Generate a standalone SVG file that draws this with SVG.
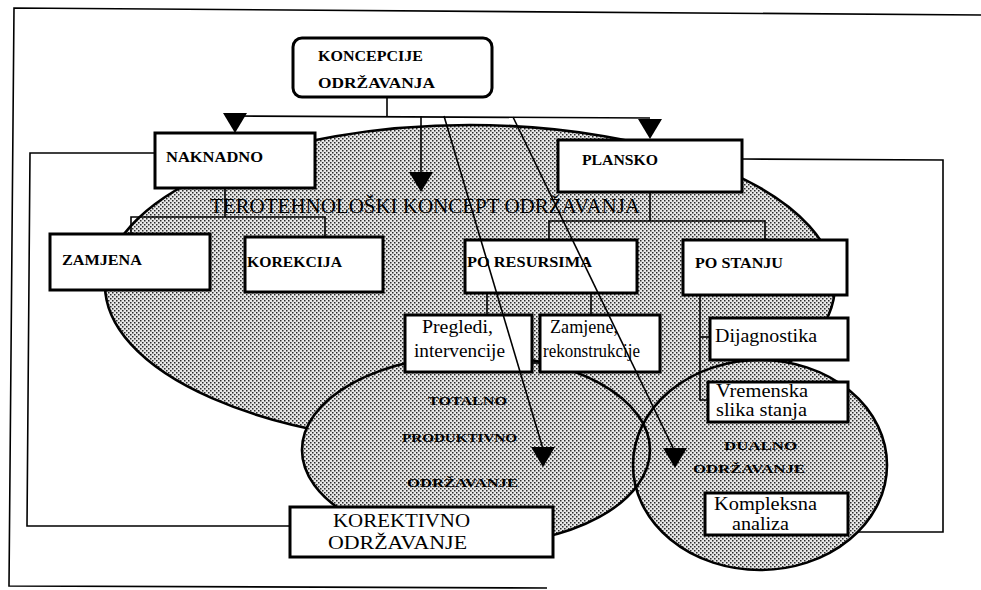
<svg xmlns="http://www.w3.org/2000/svg" xmlns:xlink="http://www.w3.org/1999/xlink" width="981" height="590" viewBox="0 0 981 590">
  <defs>
    <!-- halftone dot screen used for the concept areas -->
    <pattern id="screen" width="4" height="4" patternUnits="userSpaceOnUse">
      <rect width="4" height="4" fill="#e8e8e8"/>
      <rect x="0" y="0" width="1.5" height="1.5" fill="#2a2a2a"/>
      <rect x="2" y="2" width="1.5" height="1.5" fill="#2a2a2a"/>
    </pattern>
    <!-- downward arrowhead, tip at origin -->
    <polygon id="head" points="-12,-20 12,-20 0,0" fill="#000"/>
    <style>
      .frame { fill: none; stroke: #000; stroke-width: 1.6; }
      .area { fill: url(#screen); }
      .outline { fill: none; stroke: #000; stroke-width: 2.6; }
      .box { fill: #fff; stroke: #000; stroke-width: 3; }
      .wire { fill: none; stroke: #000; stroke-width: 1.6; }
      .cap { font-family: "Liberation Serif", "DejaVu Serif", serif; font-weight: bold; font-size: 14px; fill: #000; }
      .lbl { font-family: "Liberation Serif", "DejaVu Serif", serif; font-weight: normal; font-size: 18px; fill: #000; }
      .zone { font-family: "Liberation Serif", "DejaVu Serif", serif; font-weight: bold; font-size: 13px; fill: #000; }
      .title { font-family: "Liberation Serif", "DejaVu Serif", serif; font-weight: normal; font-size: 20px; fill: #000; }
    </style>
  </defs>

  <rect width="981" height="590" fill="#fff"/>

  <!-- page frame -->
  <polyline class="frame" points="981,15 14,8 9,586 547,588"/>

  <!-- feedback loops from the two branches -->
  <g id="loops">
    <polyline class="wire" points="155,153 30,153 27,526 290,526"/>
    <polyline class="wire" points="742,159 943,160 943,532 850,532"/>
  </g>

  <!-- concept areas -->
  <g id="terotehnoloski">
    <ellipse class="area" cx="470" cy="285" rx="365" ry="160"/>
    <ellipse class="outline" cx="470" cy="285" rx="365" ry="160"/>
    <text class="title" x="210" y="213" textLength="430" lengthAdjust="spacingAndGlyphs">TEROTEHNOLOŠKI KONCEPT ODRŽAVANJA</text>
  </g>
  <g id="tpm">
    <ellipse class="area" cx="476" cy="450" rx="174" ry="95"/>
  </g>
  <g id="dualno">
    <ellipse class="area" cx="760" cy="465" rx="127" ry="105"/>
  </g>
  <ellipse class="outline" cx="476" cy="450" rx="174" ry="95"/>
  <ellipse class="outline" cx="760" cy="465" rx="127" ry="105"/>
  <g id="tpm-label">
    <text class="zone" x="428" y="405" textLength="79" lengthAdjust="spacingAndGlyphs">TOTALNO</text>
    <text class="zone" x="402" y="442" textLength="115" lengthAdjust="spacingAndGlyphs">PRODUKTIVNO</text>
    <text class="zone" x="407" y="487" textLength="111" lengthAdjust="spacingAndGlyphs">ODRŽAVANJE</text>
  </g>
  <g id="dualno-label">
    <text class="zone" x="724" y="450" textLength="73" lengthAdjust="spacingAndGlyphs">DUALNO</text>
    <text class="zone" x="693" y="473" textLength="112" lengthAdjust="spacingAndGlyphs">ODRŽAVANJE</text>
  </g>

  <!-- tree connectors -->
  <g id="connectors">
    <polyline class="wire" points="387,97 387,116"/>
    <polyline class="wire" points="235,116 650,118"/>
    <polyline class="wire" points="421,116 421,174"/>
    <polyline class="wire" points="225,188 225,217"/>
    <polyline class="wire" points="131,233 131,217 325,217 325,237"/>
    <polyline class="wire" points="650,192 650,221"/>
    <polyline class="wire" points="549,240 549,221 765,221 765,240"/>
    <polyline class="wire" points="487,293 487,315"/>
    <polyline class="wire" points="591,293 591,315"/>
    <polyline class="wire" points="532,363 540,363"/>
    <polyline class="wire" points="700,295 700,400 708,400"/>
    <polyline class="wire" points="700,337 710,337"/>
  </g>

  <!-- nodes -->
  <g id="koncepcije">
    <rect class="box" x="293" y="38" width="199" height="59" rx="9"/>
    <text class="cap" x="318" y="61" textLength="105" lengthAdjust="spacingAndGlyphs">KONCEPCIJE</text>
    <text class="cap" x="318" y="88" textLength="117" lengthAdjust="spacingAndGlyphs">ODRŽAVANJA</text>
  </g>
  <g id="naknadno">
    <rect class="box" x="155" y="133" width="160" height="55"/>
    <text class="cap" x="166" y="162" textLength="97" lengthAdjust="spacingAndGlyphs">NAKNADNO</text>
  </g>
  <g id="plansko">
    <rect class="box" x="558" y="140" width="184" height="52"/>
    <text class="cap" x="582" y="165" textLength="76" lengthAdjust="spacingAndGlyphs">PLANSKO</text>
  </g>
  <g id="zamjena">
    <rect class="box" x="50" y="234" width="160" height="56"/>
    <text class="cap" x="62" y="265" textLength="80" lengthAdjust="spacingAndGlyphs">ZAMJENA</text>
  </g>
  <g id="korekcija">
    <rect class="box" x="245" y="237" width="138" height="55"/>
    <text class="cap" x="247" y="267" textLength="95" lengthAdjust="spacingAndGlyphs">KOREKCIJA</text>
  </g>
  <g id="po-resursima">
    <rect class="box" x="465" y="240" width="172" height="53"/>
    <text class="cap" x="467" y="267" textLength="125" lengthAdjust="spacingAndGlyphs">PO RESURSIMA</text>
  </g>
  <g id="po-stanju">
    <rect class="box" x="683" y="240" width="164" height="55"/>
    <text class="cap" x="695" y="268" textLength="88" lengthAdjust="spacingAndGlyphs">PO STANJU</text>
  </g>
  <g id="pregledi">
    <rect class="box" x="405" y="315" width="127" height="57"/>
    <text class="lbl" x="422" y="333" textLength="71" lengthAdjust="spacingAndGlyphs">Pregledi,</text>
    <text class="lbl" x="414" y="357" textLength="91" lengthAdjust="spacingAndGlyphs">intervencije</text>
  </g>
  <g id="zamjene">
    <rect class="box" x="540" y="315" width="120" height="57"/>
    <text class="lbl" x="550" y="333" textLength="68" lengthAdjust="spacingAndGlyphs">Zamjene,</text>
    <text class="lbl" x="543" y="357" font-size="14" textLength="97" lengthAdjust="spacingAndGlyphs">rekonstrukcije</text>
  </g>
  <g id="dijagnostika">
    <rect class="box" x="710" y="318" width="138" height="42"/>
    <text class="lbl" x="715" y="342" textLength="102" lengthAdjust="spacingAndGlyphs">Dijagnostika</text>
  </g>
  <g id="vremenska">
    <rect class="box" x="708" y="382" width="140" height="40"/>
    <text class="lbl" x="716" y="397" font-size="15" textLength="92" lengthAdjust="spacingAndGlyphs">Vremenska</text>
    <text class="lbl" x="716" y="416" font-size="15" textLength="91" lengthAdjust="spacingAndGlyphs">slika stanja</text>
  </g>
  <g id="kompleksna">
    <rect class="box" x="705" y="493" width="143" height="42"/>
    <text class="lbl" x="714" y="510" font-size="14" textLength="103" lengthAdjust="spacingAndGlyphs">Kompleksna</text>
    <text class="lbl" x="732" y="530" font-size="14" textLength="57" lengthAdjust="spacingAndGlyphs">analiza</text>
  </g>
  <g id="korektivno">
    <rect class="box" x="290" y="507" width="263" height="50"/>
    <text class="lbl" x="333" y="527" font-size="19" textLength="137" lengthAdjust="spacingAndGlyphs">KOREKTIVNO</text>
    <text class="lbl" x="328" y="549" font-size="19" textLength="139" lengthAdjust="spacingAndGlyphs">ODRŽAVANJE</text>
  </g>

  <!-- arrows from the root concept -->
  <g id="arrows">
    <polyline class="wire" points="444,116 543,449"/>
    <polyline class="wire" points="513,117 675,452"/>
    <use xlink:href="#head" x="235" y="133"/>
    <use xlink:href="#head" x="650" y="139"/>
    <use xlink:href="#head" x="421" y="192"/>
    <use xlink:href="#head" x="543" y="467"/>
    <use xlink:href="#head" x="675" y="468"/>
  </g>
</svg>
